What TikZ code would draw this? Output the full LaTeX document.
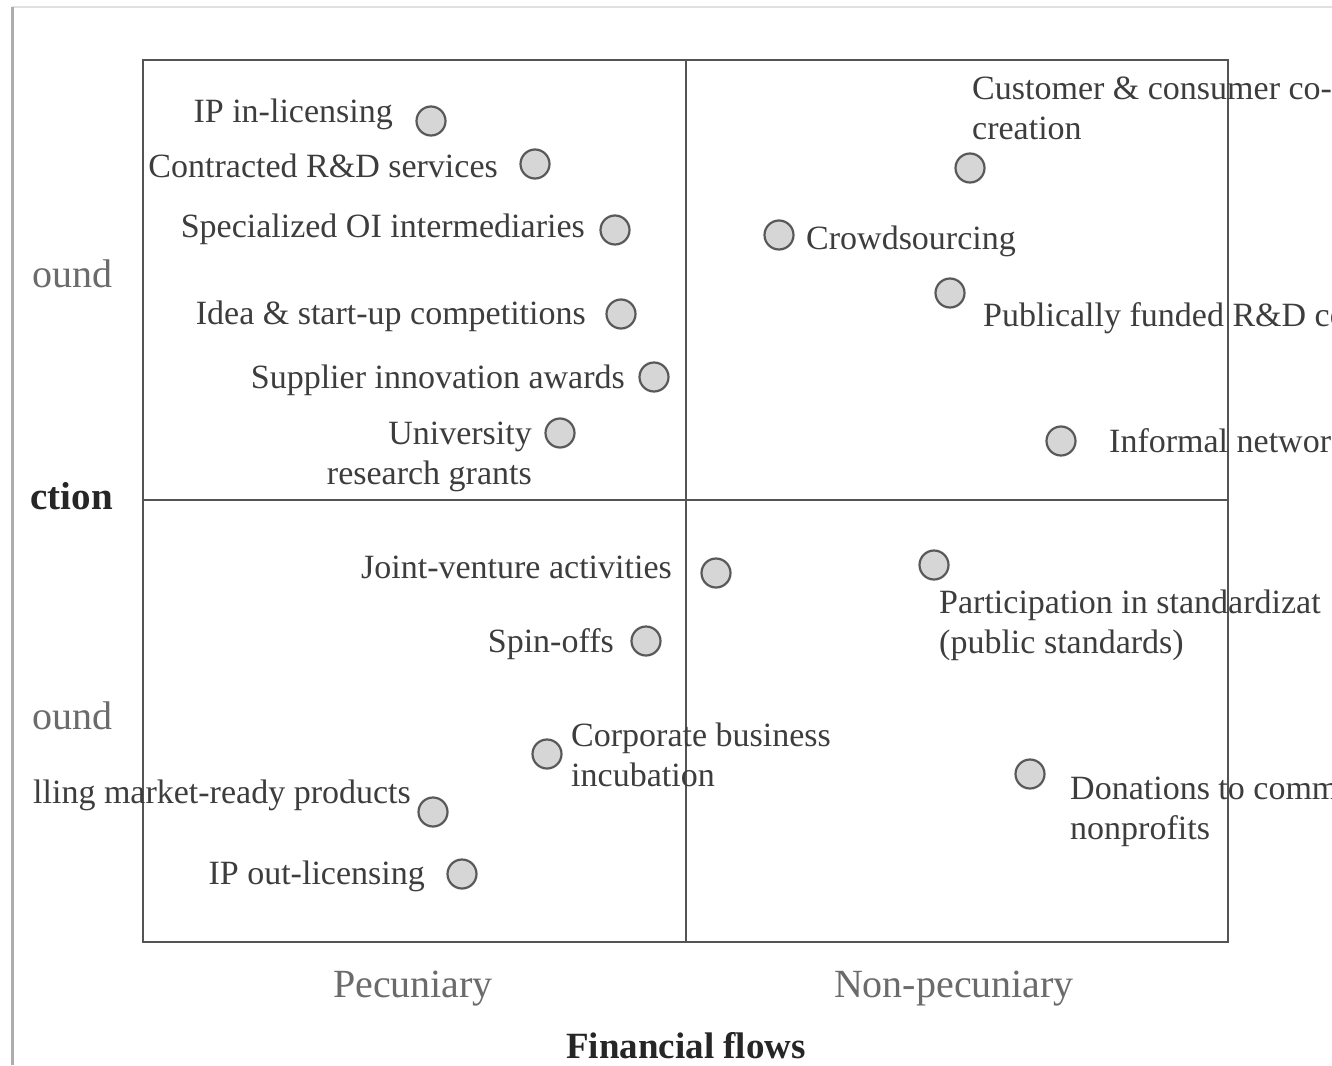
\documentclass[tikz,border=0pt]{standalone}
\usepackage{fontspec}
\setmainfont{Liberation Serif}
\begin{document}
\begin{tikzpicture}[x=1pt,y=-1pt,
  frameline/.style={draw=black!67, line width=2.4pt},
  dot/.style={circle, draw=black!65, fill=black!16, line width=2.2pt,
              minimum size=29pt, inner sep=0pt},
  lab/.style={text=black!76, inner sep=0pt, font=\fontsize{34}{40}\selectfont},
  axislab/.style={text=black!58, inner sep=0pt, font=\fontsize{40}{44}\selectfont},
  axistitle/.style={text=black!85, inner sep=0pt, font=\fontsize{37}{44}\selectfont\bfseries}]

\useasboundingbox (0,0) rectangle (1332,1065);
\fill[white] (0,0) rectangle (1332,1065);

% page edge of the scanned figure
\draw[black!12, line width=2pt] (12,7) -- (1332,7);
\draw[black!32, line width=3pt] (12,7) -- (12,1065);

\begin{scope}
\clip (28,0) rectangle (1332,1065);

% quadrant frame
\draw[frameline] (143,60) rectangle (1228,942);
\coordinate (tm) at (686,60);
\coordinate (bm) at (686,942);
\coordinate (lm) at (143,500);
\coordinate (rm) at (1228,500);
\draw[frameline] (tm) -- (bm);
\draw[frameline] (lm) -- (rm);

% upper left quadrant
\node[dot] (ipin)  at (431,121) {};
\node[lab, anchor=base east] (ipinl) at (393,122) {IP in-licensing};
\node[dot] (crd)   at (535,164) {};
\node[lab, anchor=base east] (crdl) at (498,177) {Contracted R\&D services};
\node[dot] (soi)   at (615,230) {};
\node[lab, anchor=base east] (soil) at (585,237) {Specialized OI intermediaries};
\node[dot] (idea)  at (621,314) {};
\node[lab, anchor=base east] (ideal) at (586,324) {Idea \& start-up competitions};
\node[dot] (sup)   at (654,377) {};
\node[lab, anchor=base east] (supl) at (625,388) {Supplier innovation awards};
\node[dot] (uni)   at (560,433) {};
\node[lab, anchor=base east, align=right] (unil) at (532,484) {University\\research grants};

% upper right quadrant
\node[dot] (cust)  at (970,168) {};
\node[lab, anchor=base west, align=left] (custl) at (972,139) {Customer \& consumer co-\\creation};
\node[dot] (crowd) at (779,235) {};
\node[lab, anchor=base west] (crowdl) at (806,249) {Crowdsourcing};
\node[dot] (pub)   at (950,293) {};
\node[lab, anchor=base west] (publ) at (983,326) {Publically funded R\&D co};
\node[dot] (inf)   at (1061,441) {};
\node[lab, anchor=base west] (infl) at (1109,452) {Informal networ};

% lower left quadrant
\node[dot] (jv)    at (716,573) {};
\node[lab, anchor=base east] (jvl) at (672,578) {Joint-venture activities};
\node[dot] (spin)  at (646,641) {};
\node[lab, anchor=base east] (spinl) at (614,652) {Spin-offs};
\node[dot] (inc)   at (547,754) {};
\node[lab, anchor=base west, align=left] (incl) at (571,786) {Corporate business\\incubation};
\node[dot] (sell)  at (433,812) {};
\node[lab, anchor=base east] (selll) at (411,803) {lling market-ready products};
\node[dot] (ipout) at (462,874) {};
\node[lab, anchor=base east] (ipoutl) at (425,884) {IP out-licensing};

% lower right quadrant
\node[dot] (std)   at (934,565) {};
\node[lab, anchor=base west, align=left] (stdl) at (939,653) {Participation in standardizat\\(public standards)};
\node[dot] (don)   at (1030,774) {};
\node[lab, anchor=base west, align=left] (donl) at (1070,839) {Donations to comm\\nonprofits};

% axis labels
\node[axislab, anchor=base] (pec) at (413,997) {Pecuniary};
\node[axislab, anchor=base] (npec) at (954,997) {Non-pecuniary};
\node[axistitle, anchor=base] (ff) at (686,1058) {Financial flows};
\node[axislab, anchor=base east] (inb) at (113,287) {ound};
\node[axistitle, anchor=base east, font=\fontsize{39}{44}\selectfont\bfseries] (dir) at (113,509) {ction};
\node[axislab, anchor=base east] (outb) at (113,729) {ound};
\end{scope}
\end{tikzpicture}
\end{document}
